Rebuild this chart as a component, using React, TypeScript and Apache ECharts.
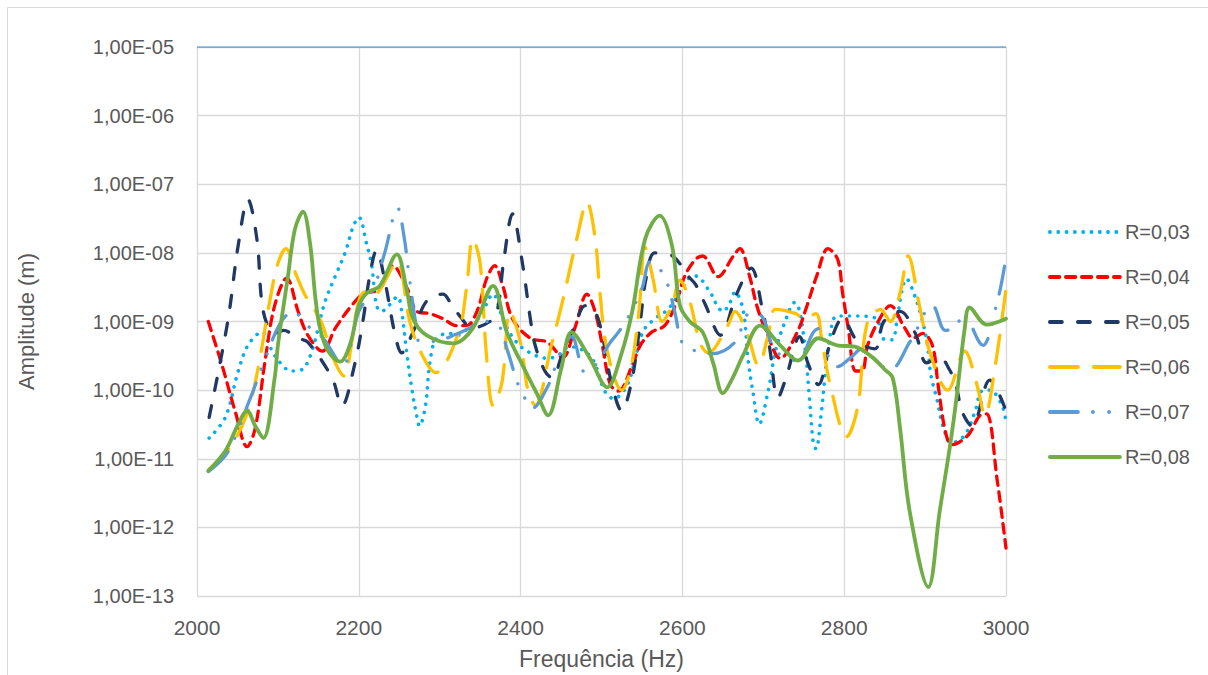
import React, { useEffect, useRef } from "react";
import * as echarts from "echarts";

// ---- data (frequency in Hz, amplitude in m) ----
const freq03 = [2015, 2035, 2051, 2063, 2080, 2096, 2117, 2130, 2142, 2158, 2171, 2183, 2193, 2200, 2210, 2216, 2222, 2228, 2235, 2248, 2253, 2259, 2266, 2272, 2275, 2282, 2288, 2296, 2313, 2321, 2338, 2350, 2366, 2378, 2391, 2408, 2434, 2446, 2461, 2477, 2490, 2504, 2515, 2532, 2544, 2552, 2566, 2582, 2597, 2607, 2616, 2634, 2643, 2650, 2659, 2665, 2675, 2681, 2687, 2695, 2706, 2715, 2727, 2739, 2745, 2752, 2757, 2762, 2765, 2772, 2776, 2782, 2791, 2816, 2840, 2847, 2859, 2865, 2871, 2877, 2884, 2896, 2903, 2907, 2915, 2922, 2933, 2949, 2962, 2970, 2980, 2995, 3000];
const amp03 = [2e-11, 4e-11, 1.9e-10, 4.5e-10, 7e-10, 3.2e-10, 1.9e-10, 2e-10, 3.7e-10, 1.9e-9, 4.6e-9, 1e-8, 2.4e-8, 3.3e-8, 1.3e-8, 6.5e-9, 1.7e-9, 1.4e-9, 1.6e-9, 2.3e-9, 1.4e-9, 3.7e-10, 9.7e-11, 4e-11, 3e-11, 5.5e-11, 2.6e-10, 5.7e-10, 6.7e-10, 6.3e-10, 8.7e-10, 1.2e-9, 2.5e-9, 1.1e-9, 5.7e-10, 3.7e-10, 2.9e-10, 3.2e-10, 4.3e-10, 3.8e-10, 2.7e-10, 9.7e-11, 7.5e-11, 1.2e-10, 3.7e-10, 7.4e-10, 1.1e-9, 1.5e-9, 2.7e-9, 4.2e-9, 4.6e-9, 2.7e-9, 1.7e-9, 1.4e-9, 1.9e-9, 2.7e-9, 1.5e-9, 2.9e-10, 9.7e-11, 3.2e-11, 9.7e-11, 3.7e-10, 1e-9, 1.9e-9, 1.4e-9, 3.7e-10, 7.7e-11, 1.6e-11, 1.4e-11, 5e-11, 1.5e-10, 5.7e-10, 1.2e-9, 1.2e-9, 1.1e-9, 5.7e-10, 5.4e-10, 1e-9, 2.7e-9, 4.2e-9, 3e-9, 1.1e-9, 4.5e-10, 1.7e-10, 7e-11, 3e-11, 1.7e-11, 2.2e-11, 5e-11, 9.7e-11, 1e-10, 6e-11, 3.4e-11];

const freq04 = [2014, 2031, 2047, 2062, 2072, 2084, 2096, 2111, 2125, 2137, 2155, 2171, 2191, 2205, 2226, 2242, 2260, 2272, 2288, 2304, 2321, 2333, 2346, 2358, 2368, 2378, 2390, 2412, 2433, 2452, 2467, 2482, 2492, 2501, 2511, 2521, 2538, 2548, 2562, 2578, 2591, 2603, 2616, 2625, 2644, 2663, 2671, 2683, 2692, 2704, 2721, 2742, 2754, 2766, 2780, 2792, 2798, 2805, 2814, 2822, 2829, 2842, 2857, 2875, 2885, 2897, 2909, 2916, 2925, 2933, 2953, 2968, 2976, 2989, 3000];
const amp04 = [1e-9, 2.3e-10, 5e-11, 1.5e-11, 2.8e-11, 2.6e-10, 1.7e-9, 4.3e-9, 1.4e-9, 6.3e-10, 3.7e-10, 8e-10, 1.7e-9, 2.5e-9, 3e-9, 6.5e-9, 3e-9, 1.4e-9, 1.3e-9, 1.1e-9, 8.7e-10, 8.7e-10, 1.4e-9, 4.2e-9, 6.5e-9, 3.3e-9, 1.1e-9, 5.7e-10, 5e-10, 3e-10, 8e-10, 2.5e-9, 1.4e-9, 4.5e-10, 1.2e-10, 9.7e-11, 2.3e-10, 4.5e-10, 7e-10, 8.7e-10, 1.7e-9, 4.6e-9, 8e-9, 9e-9, 4.5e-9, 9e-9, 1.15e-8, 4.6e-9, 1.7e-9, 7e-10, 2.9e-10, 7e-10, 1.7e-9, 4.6e-9, 1.15e-8, 8e-9, 2.6e-9, 8e-10, 1.9e-10, 1.9e-10, 4.5e-10, 1e-9, 1.7e-9, 8e-10, 5.7e-10, 6.7e-10, 4.5e-10, 1.2e-10, 2.5e-11, 1.6e-11, 2.2e-11, 4.3e-11, 4.5e-11, 5e-12, 5e-13];

const freq05 = [2015, 2038, 2051, 2063, 2074, 2082, 2096, 2107, 2125, 2137, 2167, 2179, 2195, 2205, 2214, 2222, 2232, 2245, 2253, 2267, 2284, 2304, 2313, 2325, 2340, 2362, 2371, 2379, 2390, 2402, 2412, 2418, 2430, 2439, 2451, 2467, 2480, 2492, 2501, 2511, 2525, 2538, 2548, 2555, 2566, 2588, 2607, 2616, 2628, 2647, 2667, 2685, 2698, 2708, 2718, 2728, 2745, 2755, 2768, 2783, 2798, 2817, 2838, 2849, 2869, 2888, 2902, 2918, 2930, 2938, 2946, 2958, 2980, 3000];
const amp05 = [4e-11, 1e-9, 1.3e-8, 6e-8, 1.6e-8, 1.4e-9, 6.7e-10, 7.4e-10, 5.7e-10, 5e-10, 1.5e-10, 5.9e-11, 2.4e-10, 1e-9, 5e-9, 1.1e-8, 4e-9, 6.3e-10, 3.5e-10, 7e-10, 2e-9, 2.5e-9, 1.9e-9, 1.2e-9, 8e-10, 1e-9, 1.4e-9, 7.4e-9, 3.7e-8, 7.4e-9, 1.1e-9, 4.5e-10, 1.9e-10, 1.5e-10, 3.2e-10, 8.7e-10, 1.7e-9, 1.4e-9, 6.3e-10, 1.5e-10, 5e-11, 1.5e-10, 1e-9, 4.2e-9, 1e-8, 9e-9, 4.6e-9, 3.5e-9, 1.8e-9, 6.3e-10, 2.5e-9, 6e-9, 1.7e-9, 4e-10, 7.7e-11, 1.5e-10, 6e-10, 2.5e-10, 1.2e-10, 5e-10, 1.1e-9, 5e-10, 4e-10, 1e-9, 1.4e-9, 6.7e-10, 2.5e-10, 3e-10, 2e-10, 1.2e-10, 4.8e-11, 3e-11, 1.4e-10, 5e-11];

const freq06 = [2015, 2035, 2050, 2060, 2068, 2078, 2090, 2100, 2110, 2122, 2133, 2145, 2155, 2168, 2182, 2190, 2200, 2210, 2220, 2230, 2247, 2263, 2276, 2295, 2323, 2333, 2341, 2350, 2358, 2366, 2377, 2387, 2400, 2409, 2418, 2438, 2452, 2470, 2482, 2492, 2498, 2507, 2525, 2536, 2546, 2554, 2564, 2575, 2587, 2597, 2609, 2622, 2632, 2656, 2665, 2680, 2694, 2706, 2715, 2740, 2750, 2765, 2772, 2782, 2803, 2817, 2828, 2845, 2857, 2869, 2879, 2893, 2906, 2928, 2949, 2964, 2974, 2986, 3000];
const amp06 = [7e-12, 1.2e-11, 2.2e-11, 4e-11, 8e-11, 3e-10, 2e-9, 7e-9, 1.15e-8, 5e-9, 2.5e-9, 1.5e-9, 9e-10, 3e-10, 1.6e-10, 4e-10, 2e-9, 2.8e-9, 2.5e-9, 3.5e-9, 7.6e-9, 1e-9, 3.7e-10, 1.8e-10, 6.7e-10, 3e-9, 1.6e-8, 7e-9, 3e-10, 6e-11, 1.3e-10, 1.4e-9, 4.8e-10, 1e-10, 6e-11, 4.5e-10, 2e-9, 1.7e-8, 5.5e-8, 1.7e-8, 2.7e-9, 3.8e-10, 1e-10, 2e-10, 1.3e-9, 1.2e-8, 4e-9, 1e-9, 1.7e-9, 4e-9, 2e-9, 4.8e-10, 3.5e-10, 8.7e-10, 1.4e-9, 6.7e-10, 2.3e-10, 6.3e-10, 1.5e-9, 1.3e-9, 1.1e-9, 1.3e-9, 5.7e-10, 1.3e-10, 2.1e-11, 6e-11, 9e-10, 1.5e-9, 1e-9, 2.6e-9, 9e-9, 1.7e-9, 3.5e-10, 1e-10, 3.7e-10, 1.2e-10, 4.3e-11, 2e-10, 3e-9];

const freq07 = [2014, 2038, 2066, 2085, 2103, 2119, 2135, 2156, 2180, 2200, 2218, 2232, 2248, 2256, 2261, 2270, 2276, 2298, 2320, 2337, 2355, 2371, 2384, 2395, 2403, 2415, 2433, 2441, 2448, 2463, 2480, 2495, 2510, 2521, 2532, 2550, 2560, 2573, 2582, 2591, 2600, 2614, 2638, 2665, 2683, 2698, 2711, 2725, 2742, 2762, 2770, 2780, 2792, 2807, 2822, 2840, 2857, 2881, 2890, 2897, 2909, 2925, 2939, 2947, 2953, 2972, 2980, 2984, 2993, 3000];
const amp07 = [6.5e-12, 1.25e-11, 7.7e-11, 3e-10, 9.5e-10, 1.4e-9, 9e-10, 5.7e-10, 2.3e-10, 1.4e-9, 3e-9, 1e-8, 4.5e-8, 1.7e-8, 6e-9, 1e-9, 5e-10, 5.2e-10, 6.5e-10, 8e-10, 1e-9, 9.3e-10, 3.7e-10, 1.4e-10, 8.5e-11, 5.5e-11, 1.1e-10, 1.9e-10, 3.2e-10, 6e-10, 1.8e-10, 2.5e-10, 4.8e-10, 7e-10, 1.1e-9, 3e-9, 7.4e-9, 5.6e-9, 3.4e-9, 1.3e-9, 4.8e-10, 3.8e-10, 3.4e-10, 5e-10, 1.3e-9, 1.2e-9, 4.5e-10, 3e-10, 2.7e-10, 7e-10, 8e-10, 3.2e-10, 2.2e-10, 2.9e-10, 4e-10, 2.5e-10, 2e-10, 5e-10, 7.7e-10, 1.2e-9, 1.7e-9, 7.4e-10, 8.7e-10, 1.4e-9, 1.1e-9, 4.5e-10, 6.7e-10, 1.1e-9, 3e-9, 8.5e-9];

const freq08 = [2014, 2035, 2050, 2062, 2072, 2082, 2096, 2100, 2112, 2121, 2131, 2140, 2146, 2152, 2162, 2177, 2190, 2200, 2210, 2226, 2247, 2259, 2267, 2284, 2317, 2341, 2366, 2383, 2405, 2420, 2434, 2450, 2463, 2485, 2507, 2525, 2538, 2554, 2572, 2587, 2597, 2609, 2625, 2638, 2650, 2662, 2675, 2696, 2721, 2743, 2768, 2791, 2813, 2835, 2850, 2860, 2869, 2881, 2904, 2918, 2931, 2939, 2949, 2955, 2976, 3000];
const amp08 = [6.7e-12, 1.3e-11, 3e-11, 5e-11, 3e-11, 2e-11, 1.5e-10, 4.5e-10, 4.2e-9, 2.2e-8, 4e-8, 1.3e-8, 2.4e-9, 8e-10, 3.7e-10, 2.6e-10, 5e-10, 1.7e-9, 2.6e-9, 3.3e-9, 9.5e-9, 3e-9, 1.1e-9, 6.3e-10, 4.8e-10, 8e-10, 3.3e-9, 7e-10, 2e-10, 9e-11, 4.3e-11, 2e-10, 7e-10, 3e-10, 1.1e-10, 3.5e-10, 1.4e-9, 1.6e-8, 3.5e-8, 1.3e-8, 1.7e-9, 1e-9, 7e-10, 2.5e-10, 9e-11, 1.5e-10, 3.2e-10, 8.7e-10, 4.5e-10, 2.7e-10, 5.7e-10, 4.5e-10, 4.3e-10, 3e-10, 2e-10, 1.5e-10, 2.8e-11, 1.7e-12, 1.35e-13, 1.7e-12, 1.6e-11, 8e-11, 8e-10, 1.6e-9, 9e-10, 1.1e-9];

const topLineFreq = [2000, 3000];
const topLineAmp = [1e-5, 1e-5];

const seriesNames = ["R=0,03", "R=0,04", "R=0,05", "R=0,06", "R=0,07", "R=0,08"];
const xTicks = { min: 2000, max: 3000, interval: 200 };
const yRange = { min: 1e-13, max: 1e-5 };

const FONT = "'Liberation Sans', Arial, sans-serif";
const TEXT = "#595959";

function zip(f: number[], a: number[]) {
  return f.map((x, i) => [x, a[i]]);
}

export default function App() {
  const ref = useRef<HTMLDivElement>(null);
  useEffect(() => {
    if (!ref.current) return;
    const chart = echarts.init(ref.current, undefined, { renderer: "svg" });
    const mk = (name: string, f: number[], a: number[], color: string, type: any, width = 3.3) => ({
      name,
      type: "line",
      data: zip(f, a),
      smooth: 0.35,
      symbol: "circle",
      symbolSize: 0,
      showSymbol: false,
      color,
      itemStyle: { color, opacity: 0 },
      lineStyle: { color, width, type, cap: "round", join: "round" },
    });
    chart.setOption({
      animation: false,
      textStyle: { fontFamily: FONT },
      graphic: [
        {
          type: "rect",
          shape: { x: 7.5, y: 7.5, width: 1215, height: 690 },
          style: { fill: "none", stroke: "#D9D9D9", lineWidth: 1 },
          silent: true,
        },
      ],
      grid: { left: 197, right: 202, top: 47, bottom: 77, containLabel: false },
      legend: {
        data: seriesNames,
        orient: "vertical",
        left: 1043,
        top: 217,
        itemWidth: 70,
        itemHeight: 14,
        itemGap: 25,
        itemStyle: { opacity: 0 },
        lineStyle: { width: 3.8, cap: "round" },
        textStyle: { fontSize: 20, color: TEXT, fontFamily: FONT },
      },
      xAxis: {
        type: "value",
        min: xTicks.min,
        max: xTicks.max,
        interval: xTicks.interval,
        name: "Frequência (Hz)",
        nameLocation: "middle",
        nameGap: 51,
        nameTextStyle: { fontSize: 23, color: TEXT, fontFamily: FONT },
        axisLine: { show: false },
        axisTick: { show: false },
        axisLabel: {
          fontSize: 21,
          color: TEXT,
          margin: 21,
          fontFamily: FONT,
          formatter: (v: number) => String(v),
        },
        splitLine: { show: true, lineStyle: { color: "#D9D9D9", width: 1.3 } },
      },
      yAxis: {
        type: "log",
        logBase: 10,
        min: yRange.min,
        max: yRange.max,
        interval: 1,
        splitNumber: 8,
        name: "Amplitude (m)",
        nameLocation: "middle",
        nameGap: 160,
        nameTextStyle: { fontSize: 22, color: TEXT, fontFamily: FONT },
        axisLine: { show: false },
        axisTick: { show: false },
        axisLabel: {
          fontSize: 20,
          color: TEXT,
          margin: 23,
          fontFamily: FONT,
          formatter: (v: number) => {
            const e = Math.round(Math.log10(v));
            const s = String(Math.abs(e)).padStart(2, "0");
            return "1,00E" + (e < 0 ? "-" : "+") + s;
          },
        },
        splitLine: { show: true, lineStyle: { color: "#D9D9D9", width: 1.3 } },
      },
      series: [
        {
          name: "top",
          type: "line",
          data: zip(topLineFreq, topLineAmp),
          symbol: "none",
          lineStyle: { color: "#5B9BD5", width: 1.5 },
          silent: true,
        },
        mk(seriesNames[0], freq03, amp03, "#00B0F0", [0.1, 8.2], 3.6),
        mk(seriesNames[1], freq04, amp04, "#FF0000", [9.5, 6.5]),
        mk(seriesNames[2], freq05, amp05, "#203864", [12, 16]),
        mk(seriesNames[3], freq06, amp06, "#FFC000", [28, 16]),
        mk(seriesNames[4], freq07, amp07, "#5B9BD5", [28, 15, 0.1, 16, 0.1, 15]),
        mk(seriesNames[5], freq08, amp08, "#70AD47", "solid", 3.8),
      ],
    });
    return () => chart.dispose();
  }, []);
  return (
    <div
      ref={ref}
      style={{ position: "absolute", left: 0, top: 0, width: 1208, height: 675, background: "#fff" }}
    />
  );
}
